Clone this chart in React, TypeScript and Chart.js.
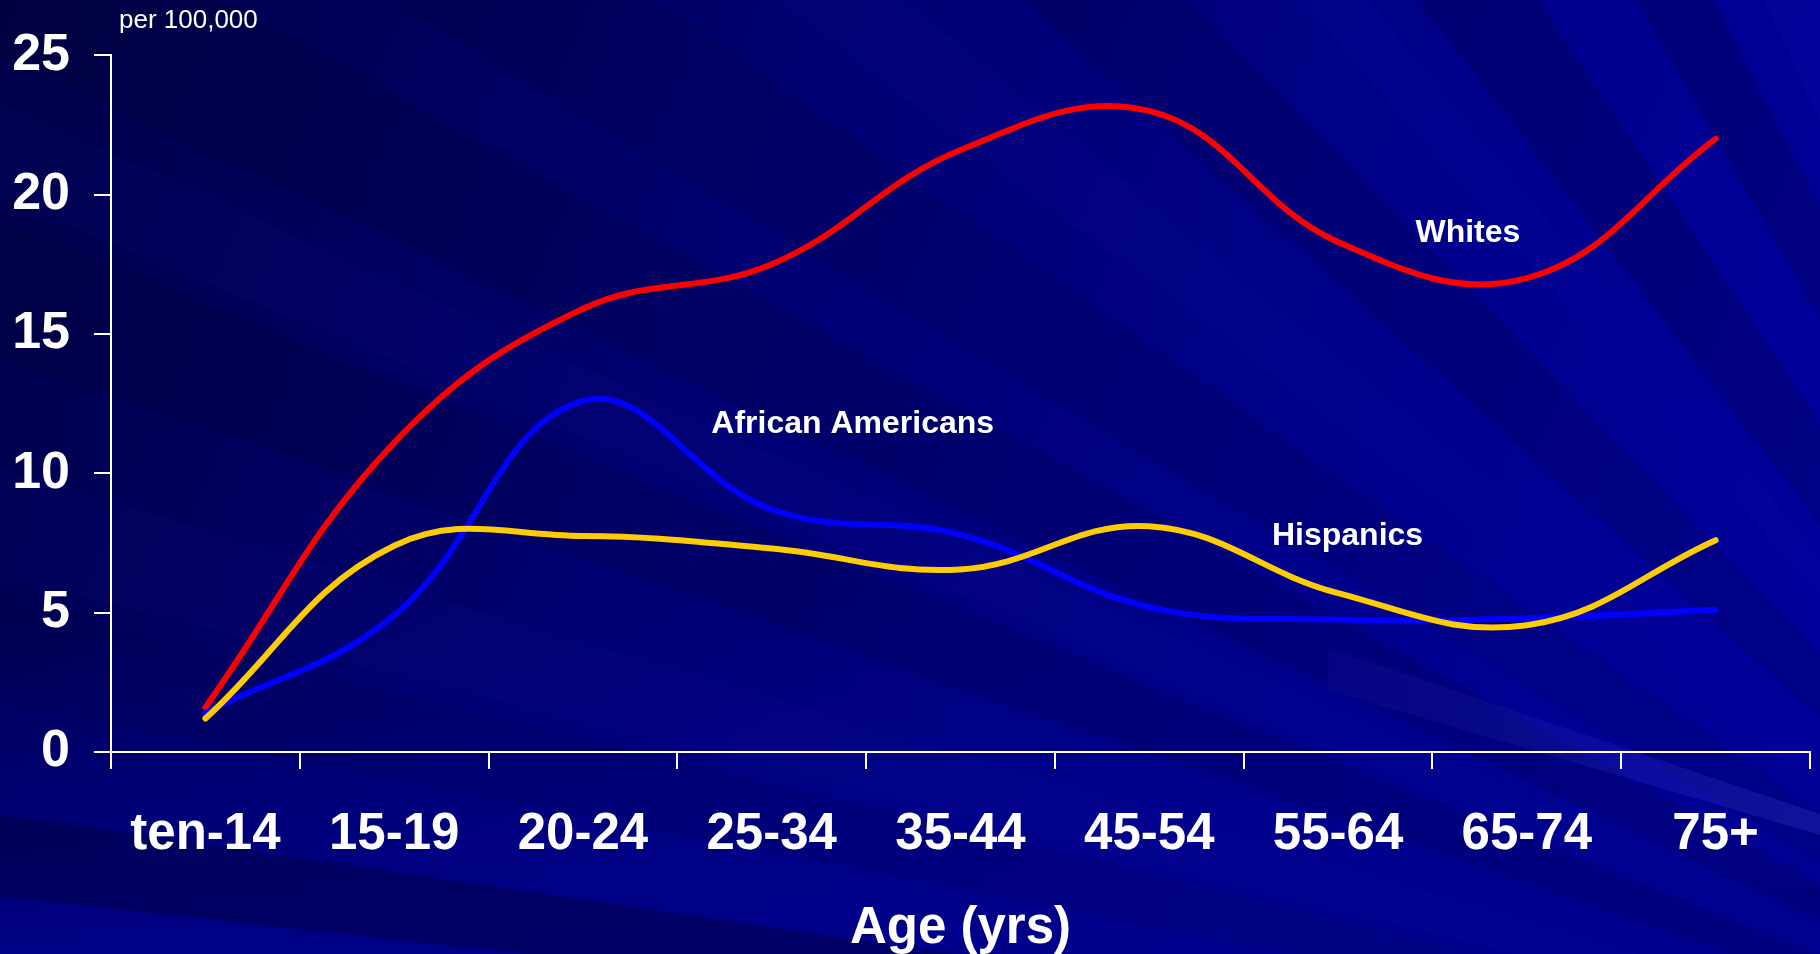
import React, { useEffect, useRef } from 'react';
import { Chart, registerables } from 'chart.js';

Chart.register(...registerables);

const ageGroups = ['ten-14', '15-19', '20-24', '25-34', '35-44', '45-54', '55-64', '65-74', '75+'];
const whites = [1.6, 11.1, 15.9, 17.5, 21.6, 23.0, 18.3, 17.0, 22.0];
const africanAmericans = [1.4, 4.9, 12.6, 8.7, 7.8, 5.2, 4.75, 4.8, 5.1];
const hispanics = [1.2, 7.4, 7.75, 7.3, 6.55, 8.1, 5.7, 4.55, 7.6];
const yTicks = [0, 5, 10, 15, 20, 25];
const seriesNames = ['Whites', 'African Americans', 'Hispanics'];
const seriesColors = ['#FF0000', '#0000FF', '#FFCC00'];
const unitLabel = 'per 100,000';
const xTitle = 'Age (yrs)';

// label anchors in data space (category index, value) for the series names
const labelAnchorX = [6.41, 2.68, 5.65];
const labelAnchorY = [18.3, 11.43, 7.41];

const FONT = '"Liberation Sans", Arial, Helvetica, sans-serif';

const backgroundPlugin = {
  id: 'slideBackground',
  beforeDraw(chart: any) {
    const ctx = chart.ctx as CanvasRenderingContext2D;
    const w = chart.width;
    const h = chart.height;
    ctx.save();
    const g = ctx.createLinearGradient(0, 0, w, h * 0.8);
    g.addColorStop(0, '#000048');
    g.addColorStop(0.4, '#000072');
    g.addColorStop(0.75, '#00008E');
    g.addColorStop(1, '#00009E');
    ctx.fillStyle = g;
    ctx.fillRect(0, 0, w, h);

    // lower part is a fairly even navy
    const vg = ctx.createLinearGradient(0, 600, 0, h);
    vg.addColorStop(0, 'rgba(0,0,140,0)');
    vg.addColorStop(1, 'rgba(0,0,140,0.85)');
    ctx.fillStyle = vg;
    ctx.fillRect(0, 600, w, h - 600);

    const fx = 2300;
    const fy = 1150;
    const R = 5000;
    const wedge = (a0: number, a1: number, color: string) => {
      const r0 = (a0 * Math.PI) / 180;
      const r1 = (a1 * Math.PI) / 180;
      ctx.beginPath();
      ctx.moveTo(fx, fy);
      ctx.lineTo(fx + R * Math.cos(r0), fy + R * Math.sin(r0));
      ctx.lineTo(fx + R * Math.cos(r1), fy + R * Math.sin(r1));
      ctx.closePath();
      ctx.fillStyle = color;
      ctx.fill();
    };
    wedge(186.3, 188.3, 'rgba(0,0,40,0.35)');
    wedge(191, 193.5, 'rgba(0,0,60,0.12)');
    wedge(194, 196.5, 'rgba(20,20,170,0.08)');
    wedge(199, 202, 'rgba(0,0,30,0.14)');
    wedge(202.5, 204.5, 'rgba(20,20,170,0.08)');
    wedge(205.5, 209, 'rgba(0,0,30,0.15)');
    wedge(211, 215, 'rgba(0,0,30,0.12)');
    wedge(217, 219.5, 'rgba(20,20,180,0.08)');
    wedge(222, 226, 'rgba(0,0,30,0.15)');
    wedge(229, 231, 'rgba(20,20,190,0.1)');
    wedge(232.5, 236.5, 'rgba(0,0,30,0.18)');
    wedge(240, 243, 'rgba(0,0,30,0.18)');
    wedge(245, 249, 'rgba(30,30,200,0.12)');

    // light translucent streak at the lower right
    const lg = ctx.createLinearGradient(1328, 0, 1820, 0);
    lg.addColorStop(0, 'rgba(60,60,220,0.08)');
    lg.addColorStop(1, 'rgba(80,80,230,0.22)');
    ctx.beginPath();
    ctx.moveTo(1328, 648);
    ctx.lineTo(1820, 814);
    ctx.lineTo(1820, 835);
    ctx.lineTo(1328, 690);
    ctx.closePath();
    ctx.fillStyle = lg;
    ctx.fill();
    ctx.restore();
  },
};

const textPlugin = {
  id: 'slideText',
  afterDatasetsDraw(chart: any) {
    const ctx = chart.ctx as CanvasRenderingContext2D;
    const xs = chart.scales.x;
    const ys = chart.scales.y;
    ctx.save();
    ctx.fillStyle = '#FFFFFF';
    ctx.textAlign = 'left';
    ctx.textBaseline = 'alphabetic';
    ctx.font = `bold 32px ${FONT}`;
    seriesNames.forEach((name, i) => {
      ctx.fillText(name, xs.getPixelForValue(labelAnchorX[i]), ys.getPixelForValue(labelAnchorY[i]));
    });
    ctx.font = `26px ${FONT}`;
    ctx.fillText(unitLabel, chart.chartArea.left + 8, 28);
    ctx.restore();
  },
};

export default function App() {
  const canvasRef = useRef<HTMLCanvasElement | null>(null);

  useEffect(() => {
    const canvas = canvasRef.current;
    if (!canvas) return;
    const chart = new Chart(canvas, {
      type: 'line',
      data: {
        labels: ageGroups,
        datasets: [
          { label: seriesNames[0], data: whites, borderColor: seriesColors[0], order: 3 },
          { label: seriesNames[1], data: africanAmericans, borderColor: seriesColors[1], order: 2 },
          { label: seriesNames[2], data: hispanics, borderColor: seriesColors[2], order: 1 },
        ],
      },
      options: {
        responsive: false,
        animation: false,
        devicePixelRatio: 1,
        layout: { padding: { top: 54, right: 10, left: 0, bottom: 0 } },
        plugins: { legend: { display: false }, tooltip: { enabled: false }, title: { display: false } },
        elements: {
          point: { radius: 0, hoverRadius: 0 },
          line: { tension: 0.4, borderWidth: 6, borderCapStyle: 'round', borderJoinStyle: 'round', fill: false },
        },
        scales: {
          x: {
            type: 'category',
            offset: true,
            grid: { display: true, offset: true, drawOnChartArea: false, drawTicks: true, tickLength: 17, color: '#FFFFFF', lineWidth: 2 },
            border: { display: true, color: '#FFFFFF', width: 2 },
            ticks: { color: '#FFFFFF', font: { family: FONT, size: 51, weight: 'bold' }, padding: 35, maxRotation: 0, autoSkip: false },
            title: { display: true, text: xTitle, color: '#FFFFFF', font: { family: FONT, size: 51, weight: 'bold', lineHeight: 1.0 }, padding: { top: 0, bottom: 0 } },
            afterFit: (s: any) => { s.height = 202; },
          },
          y: {
            min: 0,
            max: 25,
            afterBuildTicks: (s: any) => { s.ticks = yTicks.map((v) => ({ value: v })); },
            grid: { display: true, drawOnChartArea: false, drawTicks: true, tickLength: 17, color: '#FFFFFF', lineWidth: 2 },
            border: { display: true, color: '#FFFFFF', width: 2 },
            ticks: { color: '#FFFFFF', font: { family: FONT, size: 52, weight: 'bold' }, padding: 24 },
            afterFit: (s: any) => { s.width = 111; },
          },
        },
      },
      plugins: [backgroundPlugin, textPlugin],
    } as any);
    return () => chart.destroy();
  }, []);

  return (
    <div style={{ position: 'fixed', left: 0, top: 0, width: 1820, height: 954, overflow: 'hidden' }}>
      <canvas ref={canvasRef} width={1820} height={954} style={{ display: 'block', width: 1820, height: 954 }} />
    </div>
  );
}
